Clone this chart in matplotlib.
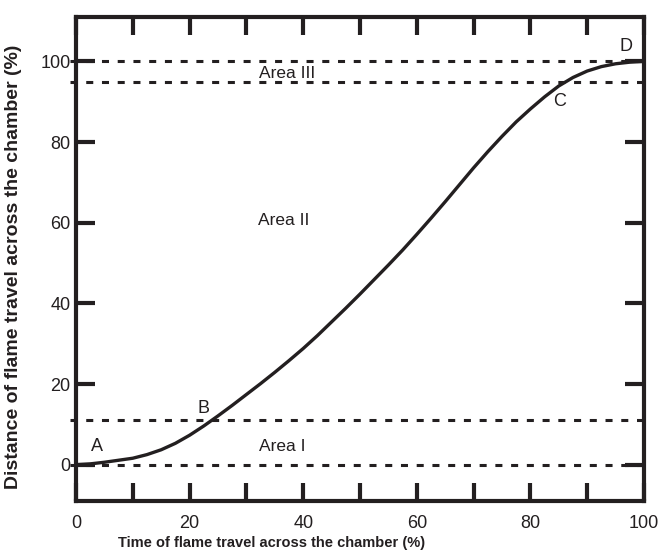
import matplotlib.pyplot as plt

# curve (percent of time vs percent of distance)
time_pct = [0, 2.5, 5, 7.5, 10, 12.5, 15, 17.5, 20, 22.5, 25, 27.5, 30,
            32.5, 35, 37.5, 40, 42.5, 45, 47.5, 50, 52.5, 55, 57.5, 60,
            62.5, 65, 67.5, 70, 72.5, 75, 77.5, 80, 82.5, 85, 87.5, 90,
            92.5, 95, 97.5, 100]
distance_pct = [0, 0.2, 0.6, 1.1, 1.6, 2.5, 3.7, 5.3, 7.3, 9.6, 12.1, 14.7,
                17.4, 20.1, 22.9, 25.8, 28.8, 32.0, 35.4, 38.8, 42.3, 45.9,
                49.5, 53.2, 57.1, 61.1, 65.2, 69.4, 73.6, 77.6, 81.4, 85.0,
                88.2, 91.2, 93.9, 96.0, 97.6, 98.7, 99.4, 99.8, 100]

# boundaries of the areas (dashed lines)
boundaries = [0, 11, 95, 100]

area_names = ['Area I', 'Area II', 'Area III']
area_x = [36.3, 36.6, 37.1]
area_y = [4.5, 60.5, 97.1]

point_names = ['A', 'B', 'C', 'D']
point_x = [3.7, 22.4, 85.2, 96.8]
point_y = [4.5, 13.9, 90.1, 103.7]

xtick_labels = [0, 20, 40, 60, 80, 100]
xtick_between = [10, 30, 50, 70, 90]
ytick_labels = [0, 20, 40, 60, 80, 100]

ink = '#231f20'
plt.rcParams['font.family'] = ['Liberation Sans', 'DejaVu Sans']

fig = plt.figure(figsize=(6.62, 5.59), dpi=100)
ax = fig.add_axes([0.1148, 0.1038, 0.858, 0.8658])

for b in boundaries:
    ax.plot([-1, 100.8], [b, b], color=ink, lw=2.2, dashes=(2.3, 2.85),
            clip_on=False, zorder=2)

ax.plot(time_pct, distance_pct, color=ink, lw=2.4, zorder=3, clip_on=False,
        solid_joinstyle='round')

for name, x, y in zip(area_names, area_x, area_y):
    ax.text(x, y, name, ha='center', va='center', fontsize=12.5, color=ink)
for name, x, y in zip(point_names, point_x, point_y):
    ax.text(x, y, name, ha='center', va='center', fontsize=13, color=ink)

ax.set_xlim(0, 100)
ax.set_ylim(-9, 111)

ax.set_xticks(xtick_labels)
ax.set_xticklabels([str(v) for v in xtick_labels])
ax.set_xticks(xtick_between, minor=True)
ax.set_yticks(ytick_labels)
ax.set_yticklabels([str(v) for v in ytick_labels])

ax.tick_params(axis='x', which='both', direction='in', length=13, width=3,
               color=ink, top=True, bottom=True, pad=10, labelsize=13,
               labelcolor=ink)
ax.tick_params(axis='y', which='major', direction='in', length=14, width=3,
               color=ink, left=True, right=True, pad=4, labelsize=13,
               labelcolor=ink)

for s in ax.spines.values():
    s.set_linewidth(3)
    s.set_color(ink)

ax.set_xlabel('Time of flame travel across the chamber (%)', fontsize=10.5,
              fontweight='bold', color=ink)
ax.xaxis.set_label_coords(0.345, -0.072)
ax.set_ylabel('Distance of flame travel across the chamber (%)', fontsize=14,
              fontweight='bold', color=ink)
ax.yaxis.set_label_coords(-0.095, 0.483)

fig.savefig('out.png', dpi=100)
